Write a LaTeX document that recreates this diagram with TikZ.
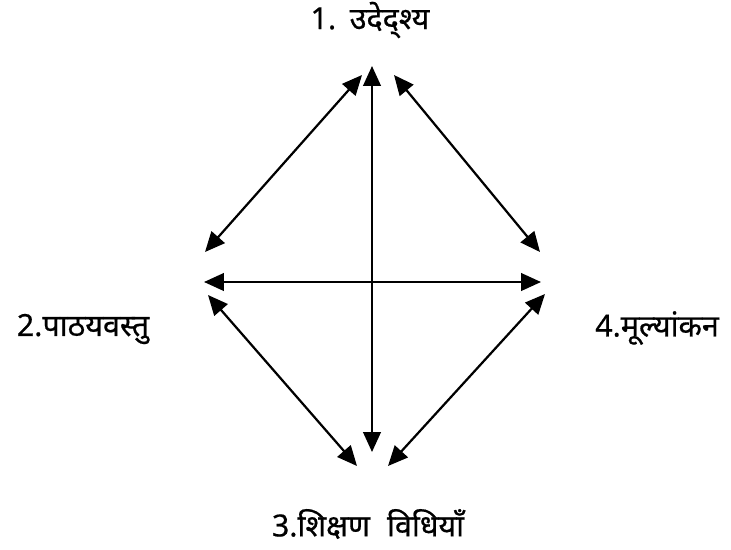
\documentclass[tikz,border=0pt]{standalone}
\usepackage{fontspec}
\newfontfamily\hindi[Script=Devanagari,FakeBold=0.6]{Noto Sans}
\usetikzlibrary{arrows.meta}

\tikzset{
label/.style={font=\hindi\fontsize{26}{30}\selectfont, inner sep=0pt},
link/.style={line width=1.9pt, {Triangle[length=17pt,width=15pt]}-{Triangle[length=17pt,width=15pt]}}
}

\begin{document}
\begin{tikzpicture}[x=0.03cm,y=-0.03cm]

\useasboundingbox (0,0) rectangle (731,549);

%%%%%%%%%%%%%%%%%%%%%%%%%%%%%%%%%%%%%%%%%%%%%%%%%%%%%%%%%%%%%%
% LABELS
%%%%%%%%%%%%%%%%%%%%%%%%%%%%%%%%%%%%%%%%%%%%%%%%%%%%%%%%%%%%%%

\node[label](aim) at (370,20) {1.\hspace{0.1em} उदेद्श्य};

\node[label](content) at (83,329) {2.पाठयवस्तु};

\node[label](method) at (368,524) {3.शिक्षण\hspace{0.3em} विधियाँ};

\node[label](eval) at (657,328) {4.मूल्यांकन};

%%%%%%%%%%%%%%%%%%%%%%%%%%%%%%%%%%%%%%%%%%%%%%%%%%%%%%%%%%%%%%
% ARROW ENDS
%%%%%%%%%%%%%%%%%%%%%%%%%%%%%%%%%%%%%%%%%%%%%%%%%%%%%%%%%%%%%%

\coordinate (top) at (372,66);
\coordinate (bottom) at (372,452);
\coordinate (left) at (204,282);
\coordinate (right) at (541,282);

\coordinate (topL) at (362,75);
\coordinate (topR) at (394,75);
\coordinate (botL) at (357,466);
\coordinate (botR) at (388,466);

\coordinate (leftU) at (205,252);
\coordinate (leftD) at (208,295);
\coordinate (rightU) at (540,252);
\coordinate (rightD) at (545,294);

%%%%%%%%%%%%%%%%%%%%%%%%%%%%%%%%%%%%%%%%%%%%%%%%%%%%%%%%%%%%%%
% CONNECTIONS
%%%%%%%%%%%%%%%%%%%%%%%%%%%%%%%%%%%%%%%%%%%%%%%%%%%%%%%%%%%%%%

\draw[link] (top)--(bottom);
\draw[link] (left)--(right);
\draw[link] (topL)--(leftU);
\draw[link] (topR)--(rightU);
\draw[link] (leftD)--(botL);
\draw[link] (rightD)--(botR);

\end{tikzpicture}
\end{document}
